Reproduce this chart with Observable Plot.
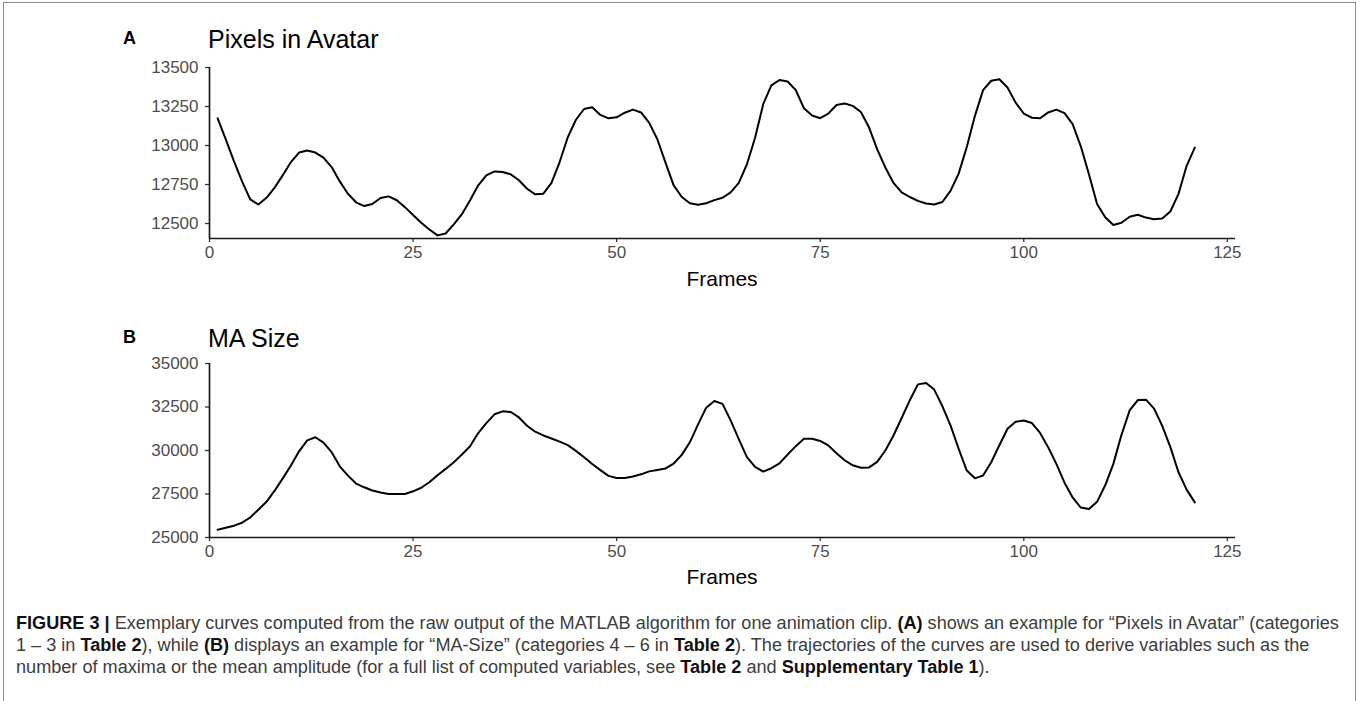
<!DOCTYPE html>
<html><head><meta charset="utf-8">
<script src="https://cdn.jsdelivr.net/npm/d3@7"></script>
<script src="https://cdn.jsdelivr.net/npm/@observablehq/plot@0.6"></script>
<style>
body{margin:0;background:#fff;width:1362px;height:701px;overflow:hidden;position:relative;font-family:"Liberation Sans",Arial,sans-serif;}
.frame{position:absolute;left:3px;top:2px;width:1353px;height:730px;border:1.5px solid #8c8c8c;box-sizing:border-box;}
.panel{position:absolute;left:0;}
.tag{position:absolute;font-weight:bold;font-size:18px;line-height:18px;color:#000;}
.ttl{position:absolute;font-size:25px;line-height:25px;color:#000;}
.xl{position:absolute;font-size:21px;line-height:21px;color:#000;width:400px;text-align:center;}
.cap{position:absolute;left:16px;top:612px;font-size:16px;line-height:22px;color:#3d3d3d;white-space:nowrap;}
.cap b{color:#111;}
</style>
</head><body>
<div class="frame"></div>
<div id="pa" class="panel" style="top:0px"></div>
<div id="pb" class="panel" style="top:299px"></div>
<div class="tag" style="left:123px;top:29px">A</div>
<div class="ttl" style="left:208px;top:27px">Pixels in Avatar</div>
<div class="xl" style="left:522px;top:268px">Frames</div>
<div class="tag" style="left:123px;top:328px">B</div>
<div class="ttl" style="left:208px;top:326px">MA Size</div>
<div class="xl" style="left:522px;top:566px">Frames</div>
<div class="cap" id="cap">
<div id="l1"><b>FIGURE 3 |</b> Exemplary curves computed from the raw output of the MATLAB algorithm for one animation clip. <b>(A)</b> shows an example for “Pixels in Avatar” (categories</div>
<div>1 – 3 in <b>Table 2</b>), while <b>(B)</b> displays an example for “MA-Size” (categories 4 – 6 in <b>Table 2</b>). The trajectories of the curves are used to derive variables such as the</div>
<div>number of maxima or the mean amplitude (for a full list of computed variables, see <b>Table 2</b> and <b>Supplementary Table 1</b>).</div>
</div>
<script>
const frames = d3.range(1, 122);
const pixelsInAvatar = [
13174,13040,12900,12770,12655,12622,12665,12730,12810,12894,
12955,12968,12955,12922,12862,12770,12691,12636,12612,12625,
12664,12674,12649,12605,12555,12505,12462,12424,12436,12495,
12560,12649,12745,12809,12834,12830,12815,12777,12723,12687,
12691,12760,12894,13053,13165,13234,13245,13196,13174,13181,
13210,13230,13212,13145,13040,12890,12745,12670,12630,12620,
12630,12650,12665,12700,12760,12880,13050,13265,13385,13420,
13410,13355,13239,13192,13175,13205,13260,13269,13254,13215,
13115,12975,12859,12760,12700,12670,12645,12628,12622,12638,
12709,12820,12990,13190,13355,13415,13425,13372,13275,13205,
13178,13175,13212,13230,13208,13137,12995,12816,12625,12540,
12491,12505,12543,12556,12538,12528,12532,12577,12690,12870,
12987];
const maSize = [
25450,25560,25680,25850,26150,26600,27050,27690,28400,29135,
29950,30580,30760,30450,29904,29090,28558,28100,27885,27700,
27590,27500,27500,27500,27654,27860,28173,28580,28942,29330,
29769,30240,31000,31577,32080,32250,32215,31900,31420,31080,
30865,30690,30510,30310,29980,29615,29220,28870,28540,28423,
28423,28510,28630,28800,28880,28970,29250,29750,30481,31500,
32462,32846,32680,31731,30650,29615,29060,28788,28981,29260,
29769,30250,30673,30680,30550,30288,29840,29440,29150,29010,
29030,29350,30000,30860,31870,32885,33800,33885,33500,32550,
31442,30100,28846,28400,28560,29327,30300,31250,31650,31720,
31577,31010,30180,29230,28150,27300,26720,26635,27050,28000,
29231,30900,32308,32900,32923,32404,31420,30192,28750,27750,
27019];
const xTicks = [0, 25, 50, 75, 100, 125];
const yTicksA = [12500, 12750, 13000, 13250, 13500];
const yTicksB = [25000, 27500, 30000, 32500, 35000];

function panel(values, yDomain, yTicks, mt) {
  return Plot.plot({
    width: 1362, height: 300,
    marginLeft: 209, marginRight: 127, marginTop: mt, marginBottom: 62,
    x: {domain: [0, 126]},
    y: {domain: yDomain},
    style: {fontFamily: "Liberation Sans, Arial, sans-serif", fontSize: "17px", color: "#4d4d4d", background: "transparent", overflow: "visible"},
    marks: [
      Plot.axisX({ticks: xTicks, tickSize: 4, tickPadding: 3, label: null, tickFormat: "d", stroke: "#333", strokeWidth: 1.3}),
      Plot.axisY({ticks: yTicks, tickSize: 4, tickPadding: 7, label: null, tickFormat: "d", stroke: "#333", strokeWidth: 1.3}),
      Plot.ruleX([0], {stroke: "#1a1a1a", strokeWidth: 1.7}),
      Plot.ruleY([yDomain[0]], {stroke: "#1a1a1a", strokeWidth: 1.7}),
      Plot.lineY(values, {x: (d, i) => frames[i], y: d => d, stroke: "#000", strokeWidth: 2})
    ]
  });
}
document.getElementById("pa").append(panel(pixelsInAvatar, [12404, 13500], yTicksA, 67));
document.getElementById("pb").append(panel(maSize, [25000, 35000], yTicksB, 64));

// fit caption first line to the printed width
const l1 = document.getElementById("l1");
const w = l1.getBoundingClientRect().width;
const cap = document.getElementById("cap");
cap.style.fontSize = (16 * 1324 / w).toFixed(2) + "px";
</script>
</body></html>
